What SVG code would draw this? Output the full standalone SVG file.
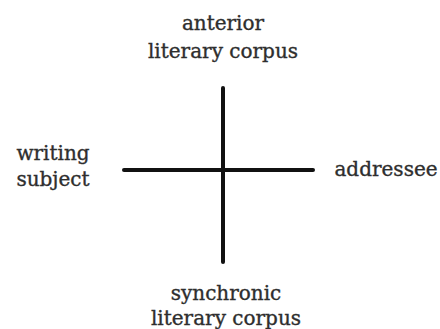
<svg xmlns="http://www.w3.org/2000/svg" width="440" height="329" viewBox="0 0 440 329">
<style>
text{font-family:"DejaVu Serif","Liberation Serif",serif;font-size:20px;fill:#2e2e2e;stroke:#2e2e2e;stroke-width:0.35;text-anchor:middle}
.axis{stroke:#111;stroke-width:4;stroke-linecap:round}
</style>
<rect width="440" height="329" fill="#fff"/>
<g id="connectors">
<line class="axis" x1="223" y1="88" x2="223" y2="262"/>
<line class="axis" x1="124" y1="170" x2="313" y2="170"/>
</g>
<g id="anterior"><text x="223" y="30">anterior</text><text x="223" y="58">literary corpus</text></g>
<g id="writing-subject"><text x="53" y="160">writing</text><text x="53" y="186">subject</text></g>
<g id="addressee"><text x="386" y="176">addressee</text></g>
<g id="synchronic"><text x="226" y="300">synchronic</text><text x="226" y="325">literary corpus</text></g>
</svg>
